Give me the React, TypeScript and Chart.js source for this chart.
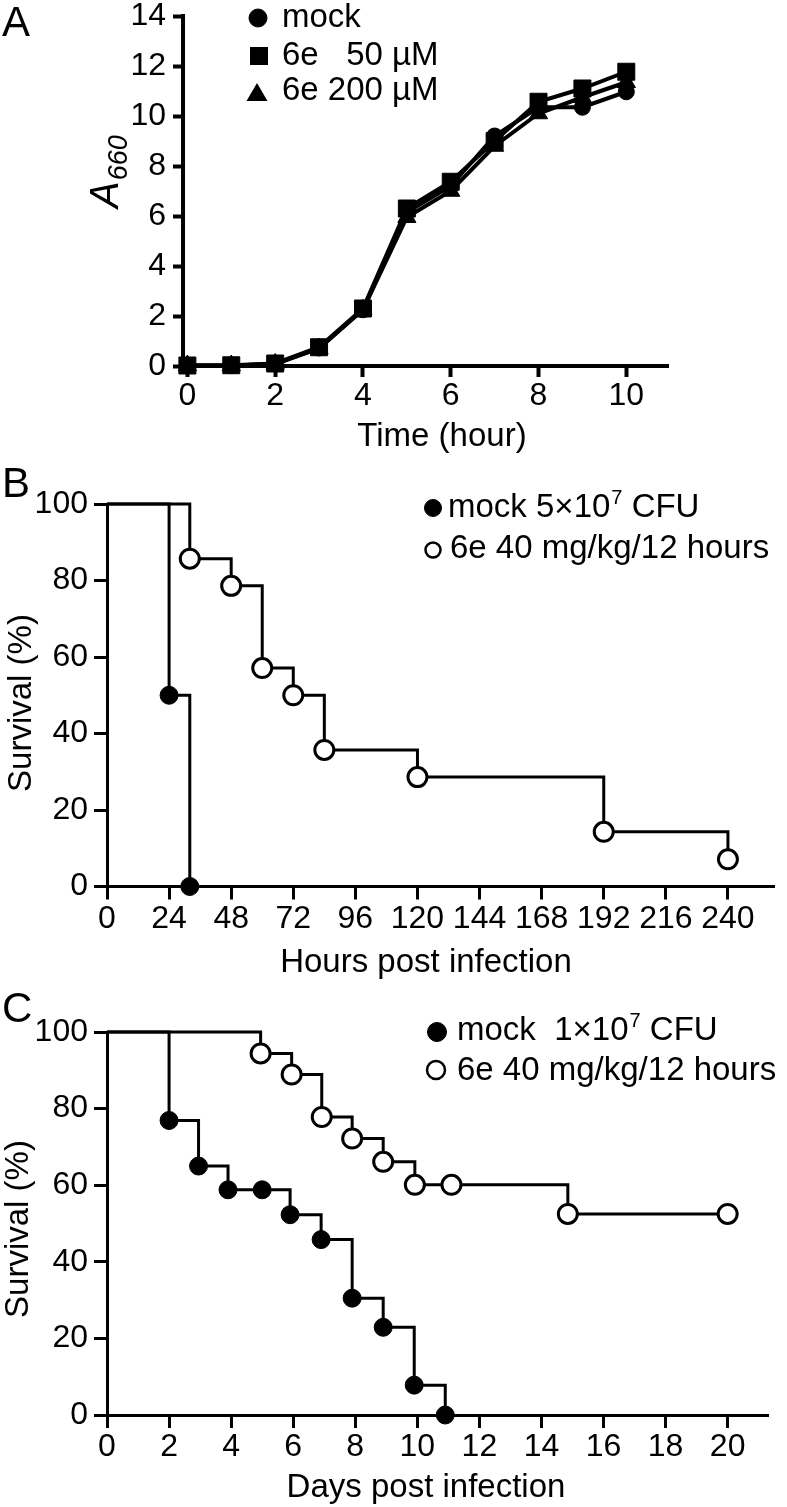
import React, { useEffect, useRef } from "react";
import { Chart, registerables } from "chart.js";

Chart.register(...registerables);

const FONT = "'Liberation Sans', Arial, Helvetica, sans-serif";
const BLACK = "#000000";
const WHITE = "#ffffff";

// ---------- Panel A: growth curve ----------
const hoursA = [0, 1, 2, 3, 4, 5, 6, 7, 8, 9, 10];
const mockA = [0.02, 0.02, 0.08, 0.72, 2.25, 6.15, 7.2, 9.2, 10.35, 10.35, 10.97];
const e50A = [0.02, 0.03, 0.1, 0.75, 2.3, 6.3, 7.37, 9.0, 10.57, 11.1, 11.77];
const e200A = [0.02, 0.02, 0.08, 0.7, 2.25, 5.95, 7.0, 8.8, 10.1, 10.75, 11.35];
const xTicksA = [0, 2, 4, 6, 8, 10];
const yTicksA = [0, 2, 4, 6, 8, 10, 12, 14];

// ---------- Panel B: survival, hours ----------
const mockHoursB = [0, 24, 32];
const mockSurvB = [100, 50, 0];
const e6HoursB = [0, 32, 48, 60, 72, 84, 120, 192, 240];
const e6SurvB = [100, 85.7, 78.6, 57.1, 50, 35.7, 28.6, 14.3, 7.1];
const xTicksB = [0, 24, 48, 72, 96, 120, 144, 168, 192, 216, 240];

// ---------- Panel C: survival, days ----------
const mockDaysC = [0, 2, 2.95, 3.9, 5, 5.9, 6.9, 7.9, 8.9, 9.9, 10.9];
const mockSurvC = [100, 76.9, 65, 58.8, 58.8, 52.3, 45.8, 30.5, 22.9, 7.8, 0];
const e6DaysC = [0, 4.95, 5.95, 6.92, 7.9, 8.9, 9.92, 11.1, 14.85, 20];
const e6SurvC = [100, 94.4, 88.9, 77.8, 72.2, 66.1, 60.1, 60.1, 52.5, 52.5];
const xTicksC = [0, 2, 4, 6, 8, 10, 12, 14, 16, 18, 20];

const yTicksSurv = [0, 20, 40, 60, 80, 100];

function pts(xs: number[], ys: number[]) {
  return xs.map((x, i) => ({ x, y: ys[i] }));
}

function makeScale(
  min: number,
  max: number,
  tickVals: number[],
  isX: boolean,
  size: number,
  tickLength: number,
  lineW: number,
  padding: number
) {
  return {
    type: "linear",
    min,
    max,
    afterBuildTicks: (s: any) => {
      s.ticks = tickVals.map((v) => ({ value: v }));
    },
    afterFit: (s: any) => {
      if (isX) s.height = size;
      else s.width = size;
      s.paddingLeft = 0;
      s.paddingRight = 0;
      s.paddingTop = 0;
      s.paddingBottom = 0;
    },
    grid: {
      display: true,
      drawOnChartArea: false,
      drawTicks: true,
      tickLength,
      tickWidth: lineW,
      tickColor: BLACK,
    },
    border: { display: true, width: lineW, color: BLACK },
    ticks: {
      color: BLACK,
      font: { family: FONT, size: 32 },
      padding,
      maxRotation: 0,
      minRotation: 0,
      autoSkip: false,
      callback: (v: any) => String(v),
    },
  };
}

function txt(ctx: CanvasRenderingContext2D, s: string, x: number, y: number, size: number, align: CanvasTextAlign = "left", italic = false) {
  ctx.save();
  ctx.font = `${italic ? "italic " : ""}${size}px ${FONT}`;
  ctx.fillStyle = BLACK;
  ctx.textAlign = align;
  ctx.textBaseline = "alphabetic";
  ctx.fillText(s, x, y);
  ctx.restore();
}

function rotTxt(ctx: CanvasRenderingContext2D, s: string, x: number, cy: number, size: number) {
  ctx.save();
  ctx.translate(x, cy);
  ctx.rotate(-Math.PI / 2);
  ctx.font = `${size}px ${FONT}`;
  ctx.fillStyle = BLACK;
  ctx.textAlign = "center";
  ctx.textBaseline = "alphabetic";
  ctx.fillText(s, 0, 0);
  ctx.restore();
}

function circle(ctx: CanvasRenderingContext2D, x: number, y: number, r: number, filled: boolean, lw: number) {
  ctx.save();
  ctx.beginPath();
  ctx.arc(x, y, r, 0, Math.PI * 2);
  ctx.fillStyle = filled ? BLACK : WHITE;
  ctx.fill();
  ctx.lineWidth = lw;
  ctx.strokeStyle = BLACK;
  ctx.stroke();
  ctx.restore();
}

// text with a superscript piece: [before, sup, after]
function supTxt(ctx: CanvasRenderingContext2D, parts: string[], x: number, y: number, size: number, supSize: number) {
  ctx.save();
  ctx.fillStyle = BLACK;
  ctx.textBaseline = "alphabetic";
  ctx.textAlign = "left";
  ctx.font = `${size}px ${FONT}`;
  ctx.fillText(parts[0], x, y);
  let cx = x + ctx.measureText(parts[0]).width;
  ctx.font = `${supSize}px ${FONT}`;
  ctx.fillText(parts[1], cx + 1, y - 13);
  cx += ctx.measureText(parts[1]).width + 1;
  ctx.font = `${size}px ${FONT}`;
  ctx.fillText(parts[2], cx, y);
  ctx.restore();
}

function survDataset(label: string, xs: number[], ys: number[], filled: boolean) {
  return {
    label,
    data: pts(xs, ys),
    stepped: "before",
    borderColor: BLACK,
    borderWidth: 3,
    fill: false,
    clip: false,
    pointRadius: (c: any) => (c.dataIndex === 0 ? 0 : filled ? 9 : 9.5),
    pointHoverRadius: (c: any) => (c.dataIndex === 0 ? 0 : filled ? 9 : 9.5),
    pointStyle: "circle",
    pointBackgroundColor: filled ? BLACK : WHITE,
    pointBorderColor: BLACK,
    pointBorderWidth: filled ? 1 : 3,
  };
}

function configA() {
  const ds = (label: string, ys: number[], style: string, r: number) => ({
    label,
    data: pts(hoursA, ys),
    borderColor: BLACK,
    borderWidth: 4,
    tension: 0,
    fill: false,
    clip: false,
    pointStyle: style,
    pointRadius: r,
    pointHoverRadius: r,
    pointBackgroundColor: BLACK,
    pointBorderColor: BLACK,
    pointBorderWidth: 1,
  });
  return {
    type: "line",
    data: {
      datasets: [
        ds("6e 50 µM", e50A, "rect", 12),
        ds("6e 200 µM", e200A, "triangle", 10.5),
        ds("mock", mockA, "circle", 8),
      ],
    },
    options: {
      responsive: false,
      maintainAspectRatio: false,
      animation: false,
      devicePixelRatio: 1,
      events: [],
      layout: { padding: { top: 16, right: 119, bottom: 0, left: 0 } },
      plugins: { legend: { display: false }, tooltip: { enabled: false } },
      scales: {
        x: makeScale(-0.1, 10.95, xTicksA, true, 104, 11, 4, 0),
        y: makeScale(0, 14, yTicksA, false, 183, 10, 4, 7),
      },
    },
    plugins: [
      {
        id: "extrasA",
        afterDraw(chart: any) {
          const ctx = chart.ctx as CanvasRenderingContext2D;
          txt(ctx, "A", 2, 36, 42);
          // legend
          circle(ctx, 258, 18, 9, true, 1);
          ctx.save();
          ctx.fillStyle = BLACK;
          ctx.fillRect(250, 47, 18, 18);
          ctx.beginPath();
          ctx.moveTo(257, 83);
          ctx.lineTo(267.5, 101);
          ctx.lineTo(246.5, 101);
          ctx.closePath();
          ctx.fill();
          ctx.restore();
          txt(ctx, "mock", 282, 27, 33);
          txt(ctx, "6e 200 µM", 282, 100, 33);
          ctx.save();
          ctx.font = `33px ${FONT}`;
          const w = ctx.measureText("6e 200 µM").width;
          ctx.restore();
          txt(ctx, "6e", 282, 65, 33);
          txt(ctx, "50 µM", 282 + w, 65, 33, "right");
          // x title
          txt(ctx, "Time (hour)", 442, 446, 33, "center");
          // y title A660
          ctx.save();
          ctx.translate(118, 208);
          ctx.rotate(-Math.PI / 2);
          ctx.fillStyle = BLACK;
          ctx.textBaseline = "alphabetic";
          ctx.font = `italic 40px ${FONT}`;
          ctx.fillText("A", 0, 0);
          const wa = ctx.measureText("A").width;
          ctx.font = `italic 27px ${FONT}`;
          ctx.fillText("660", wa + 1, 9);
          ctx.restore();
        },
      },
    ],
  };
}

function configB() {
  return {
    type: "line",
    data: {
      datasets: [
        survDataset("mock 5×10⁷ CFU", mockHoursB, mockSurvB, true),
        survDataset("6e 40 mg/kg/12 hours", e6HoursB, e6SurvB, false),
      ],
    },
    options: {
      responsive: false,
      maintainAspectRatio: false,
      animation: false,
      devicePixelRatio: 1,
      events: [],
      layout: { padding: { top: 44, right: 9, bottom: 0, left: 0 } },
      plugins: { legend: { display: false }, tooltip: { enabled: false } },
      scales: {
        x: makeScale(0, 258, xTicksB, true, 93.5, 13, 3, 0),
        y: makeScale(0, 100, yTicksSurv, false, 107, 13, 3, 6),
      },
    },
    plugins: [
      {
        id: "extrasB",
        afterDraw(chart: any) {
          const ctx = chart.ctx as CanvasRenderingContext2D;
          txt(ctx, "B", 2, 37, 42);
          circle(ctx, 433, 48, 8.5, true, 1);
          circle(ctx, 433, 90, 7.5, false, 2.5);
          supTxt(ctx, ["mock 5×10", "7", " CFU"], 448, 57, 33, 20);
          txt(ctx, "6e 40 mg/kg/12 hours", 450, 98, 33);
          rotTxt(ctx, "Survival (%)", 31, 243, 33);
          txt(ctx, "Hours post infection", 426, 512, 33, "center");
        },
      },
    ],
  };
}

function configC() {
  return {
    type: "line",
    data: {
      datasets: [
        survDataset("mock 1×10⁷ CFU", mockDaysC, mockSurvC, true),
        survDataset("6e 40 mg/kg/12 hours", e6DaysC, e6SurvC, false),
      ],
    },
    options: {
      responsive: false,
      maintainAspectRatio: false,
      animation: false,
      devicePixelRatio: 1,
      events: [],
      layout: { padding: { top: 52, right: 19, bottom: 0, left: 0 } },
      plugins: { legend: { display: false }, tooltip: { enabled: false } },
      scales: {
        x: makeScale(0, 21.3, xTicksC, true, 92, 13, 3, 0),
        y: makeScale(0, 100, yTicksSurv, false, 107, 13, 3, 6),
      },
    },
    plugins: [
      {
        id: "extrasC",
        afterDraw(chart: any) {
          const ctx = chart.ctx as CanvasRenderingContext2D;
          txt(ctx, "C", 2, 42, 42);
          circle(ctx, 437, 52, 9.5, true, 1);
          circle(ctx, 436, 90, 9, false, 2.5);
          supTxt(ctx, ["mock  1×10", "7", " CFU"], 457, 60, 33, 20);
          txt(ctx, "6e 40 mg/kg/12 hours", 457, 100, 33);
          rotTxt(ctx, "Survival (%)", 28, 249, 33);
          txt(ctx, "Days post infection", 426, 517, 33, "center");
        },
      },
    ],
  };
}

function Panel({ top, height, build }: { top: number; height: number; build: () => any }) {
  const ref = useRef<HTMLCanvasElement>(null);
  useEffect(() => {
    if (!ref.current) return;
    const chart = new Chart(ref.current, build());
    return () => chart.destroy();
  }, []);
  return (
    <canvas
      ref={ref}
      width={787}
      height={height}
      style={{ position: "absolute", left: 0, top, width: 787, height, display: "block" }}
    />
  );
}

export default function App() {
  return (
    <div style={{ position: "absolute", left: 0, top: 0, width: 787, height: 1507, background: "#fff", overflow: "hidden" }}>
      <Panel top={0} height={470} build={configA} />
      <Panel top={460} height={520} build={configB} />
      <Panel top={980} height={527} build={configC} />
    </div>
  );
}
